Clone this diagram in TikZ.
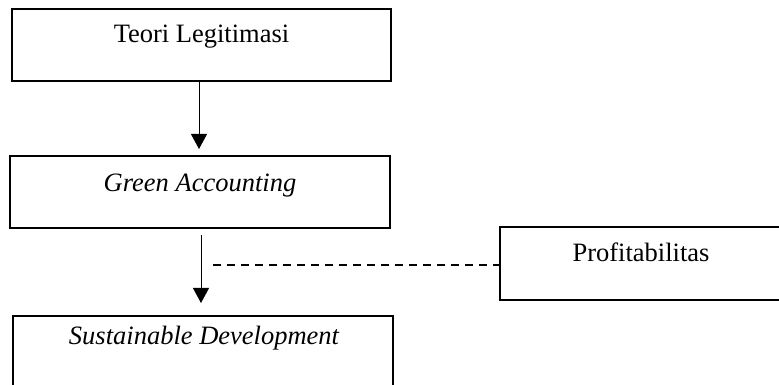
\documentclass[tikz,border=0pt]{standalone}
\usepackage{fontspec}
\setmainfont{Liberation Serif}
\usetikzlibrary{arrows.meta}
\tikzset{
  box/.style={draw=black, line width=1.6pt, rectangle, inner sep=0pt},
  txt/.style={anchor=base, inner sep=0pt, font=\fontsize{26.5}{30}\selectfont},
  arr/.style={draw=black, line width=1pt, -{Triangle[width=16pt,length=15pt]}},
  dsh/.style={draw=black, line width=1.2pt, dash pattern=on 8pt off 6pt}
}
\begin{document}
\begin{tikzpicture}[x=1pt,y=1pt]
\useasboundingbox (0,0) rectangle (779,385);
\clip (0,0) rectangle (779,385);
% boxes (y measured from top: ytikz = 385 - y)
\node[box, minimum width=379pt, minimum height=72pt] (b1) at (201.5,340) {};
\node[txt] (t1) at (201.5,342) {Teori Legitimasi};
\node[box, minimum width=380pt, minimum height=72pt] (b2) at (200,193) {};
\node[txt] (t2) at (200,193) {\itshape Green Accounting};
\node[box, minimum width=380pt, minimum height=79pt] (b3) at (203,29.5) {};
\node[txt] (t3) at (204,40) {\itshape Sustainable Development};
\node[box, minimum width=282pt, minimum height=73pt] (p) at (641,121.5) {};
\node[txt] (tp) at (641,123) {Profitabilitas};
% arrows
\coordinate (a1e) at (199,236);
\draw[arr] (a1e |- b1.south) -- (a1e);
\coordinate (a2s) at (201,150);
\coordinate (a2e) at (201,82);
\draw[arr] (a2s) -- (a2e);
\coordinate (d0) at (213,120);
\draw[dsh] (d0) -- (d0 -| p.west);
\end{tikzpicture}
\end{document}
